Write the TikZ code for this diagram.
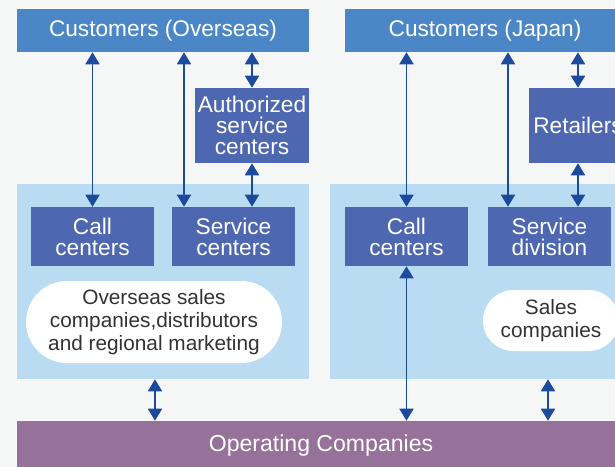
\documentclass[tikz,border=0pt]{standalone}
\usepackage{fontspec}
\setmainfont{Liberation Sans}
\usetikzlibrary{arrows.meta}
\definecolor{bgc}{HTML}{F5F7F7}
\definecolor{custblue}{HTML}{4B86C6}
\definecolor{darkbox}{HTML}{4D67B0}
\definecolor{regionc}{HTML}{BADCF2}
\definecolor{purplec}{HTML}{967199}
\definecolor{arrowc}{HTML}{1C4A9D}
\definecolor{ovaltext}{HTML}{333333}
\tikzset{
  cust/.style={fill=custblue, text=white, inner sep=0pt, align=center, minimum height=32.25pt,
    font=\fontsize{17}{15.75}\selectfont},
  dbox/.style={fill=darkbox, text=white, inner sep=0pt, align=center,
    font=\fontsize{17}{15.75}\selectfont},
  region/.style={fill=regionc, inner sep=0pt, minimum height=146.25pt},
  oval/.style={fill=white, text=ovaltext, inner sep=0pt, align=center,
    font=\fontsize{15.6}{17.5}\selectfont},
  dbl/.style={draw=arrowc, line width=1.35pt,
    {Triangle[width=10.5pt,length=9pt]}-{Triangle[width=10.5pt,length=9pt]}}
}
\begin{document}
\begin{tikzpicture}[x=0.75pt,y=-0.75pt]
\useasboundingbox (0,0) rectangle (615,467);
\clip (0,0) rectangle (615,467);
\fill[bgc] (0,0) rectangle (615,467);
% regions
\node[region, minimum width=219pt] (regL) at (163,281.5) {};
\node[region, minimum width=232.5pt] (regR) at (485,281.5) {};
% customers
\node[cust, minimum width=219pt] (co) at (163,30.5) {Customers (Overseas)};
\node[cust, minimum width=210pt] (cj) at (485,30.5) {Customers (Japan)};
% intermediate boxes
\node[dbox, minimum width=85.5pt, minimum height=56.25pt] (asc) at (252,125.5) {Authorized\\service\\centers};
\node[dbox, minimum width=73.5pt, minimum height=56.25pt] (ret) at (578,125.5) {Retailers};
% inner boxes
\node[dbox, minimum width=92.25pt, minimum height=44.25pt] (cc1) at (92.5,236.5) {Call\\centers};
\node[dbox, minimum width=92.25pt, minimum height=44.25pt] (sc1) at (233.5,236.5) {Service\\centers};
\node[dbox, minimum width=92.25pt, minimum height=44.25pt] (cc2) at (406.5,236.5) {Call\\centers};
\node[dbox, minimum width=92.25pt, minimum height=44.25pt] (sd) at (549.5,236.5) {Service\\division};
% ovals
\node[oval, minimum width=192pt, minimum height=61.5pt, rounded corners=30.7pt] (osc) at (154,322) {Overseas sales\\companies,distributors\\and regional marketing};
\node[oval, minimum width=102pt, minimum height=45.75pt, rounded corners=22.8pt] (sco) at (551,320.5) {Sales\\companies};
% operating companies
\node[fill=purplec, text=white, inner sep=0pt, minimum width=456pt, minimum height=37.5pt,
  font=\fontsize{17.3}{15.75}\selectfont] (op) at (321,446) {Operating Companies};
% x positions
\coordinate (xa) at (184,0);
\coordinate (xb) at (155,0);
\coordinate (xc) at (508,0);
\coordinate (xd) at (548,0);
% arrows left
\draw[dbl] (co.south -| cc1) -- (cc1.north);
\draw[dbl] (co.south -| xa) -- (sc1.north -| xa);
\draw[dbl] (co.south -| asc) -- (asc.north);
\draw[dbl] (asc.south) -- (sc1.north -| asc);
\draw[dbl] (regL.south -| xb) -- (op.north -| xb);
% arrows right
\draw[dbl] (cj.south -| cc2) -- (cc2.north);
\draw[dbl] (cj.south -| xc) -- (sd.north -| xc);
\draw[dbl] (cj.south -| ret) -- (ret.north);
\draw[dbl] (ret.south) -- (sd.north -| ret);
\draw[dbl] (cc2.south) -- (op.north -| cc2);
\draw[dbl] (regR.south -| xd) -- (op.north -| xd);
\end{tikzpicture}
\end{document}
